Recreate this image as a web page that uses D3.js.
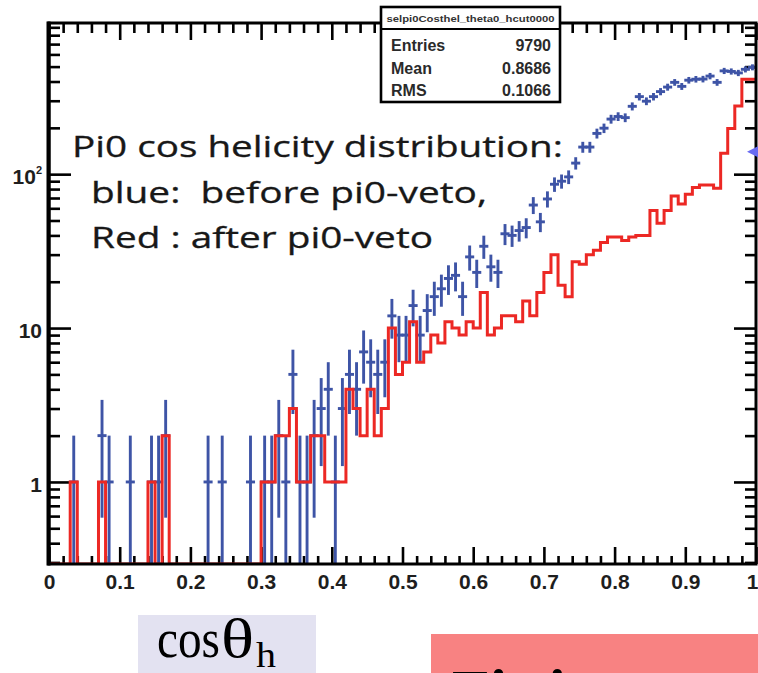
<!DOCTYPE html>
<html><head><meta charset="utf-8">
<script src="https://cdn.jsdelivr.net/npm/d3@7/dist/d3.min.js"></script>
<style>body{margin:0;background:#fff;} svg{display:block}</style>
</head><body>
<svg id="c" width="758" height="673"></svg>
<script>
// ---------------- data ----------------
const nBins = 100;
const xLow = 0, xHigh = 1;
const blueCounts = [
  0,0,0,1,0,0,0,2,1,0,
  0,1,0,0,1,1,2,0,0,0,
  0,0,1,0,1,0,0,0,1,0,
  1,1,2,1,5,1,1,2,3,4,
  1,3,5,4,7,6,5,6,12,9,
  9,14,9,13,16,18,21,22,16,29,
  23,34,25,23,41,40,43,45,63,49,
  69,86,90,96,118,150,150,184,199,228,
  237,233,276,319,298,319,344,368,395,372,
  408,414,415,434,395,469,465,455,480,495
];
const redCounts = [
  0,0,0,1,0,0,0,1,0,0,
  0,0,0,0,1,0,2,0,0,0,
  0,0,0,0,0,0,0,0,0,0,
  1,1,2,2,3,1,1,2,2,1,
  1,1,4,3,2,4,2,3,10,5,
  6,11,6,7,9,8,11,10,9,11,
  10,17,9,10,12,12,11,15,12,17,
  23,30,19,16,27,26,30,32,36,39,
  39,37,39,40,40,58,48,58,72,64,
  74,82,85,85,81,137,198,277,414,414
];
const xTickValues = [0,0.1,0.2,0.3,0.4,0.5,0.6,0.7,0.8,0.9,1];
const xTickLabels = ["0","0.1","0.2","0.3","0.4","0.5","0.6","0.7","0.8","0.9","1"];
const yTickValues = [1,10,100];
const yTickBase = ["1","10","10"];
const yTickExp = ["","","2"];
const statsTitle = "selpi0Costhel_theta0_hcut0000";
const statsNames = ["Entries","Mean","RMS"];
const statsValues = ["9790","0.8686","0.1066"];
const noteLines = ["Pi0 cos helicity distribution:","blue:  before pi0-veto,","Red : after pi0-veto"];
const markerValue = 140; // small blue marker on right axis
const yDomain = [0.293, 960];

// ---------------- layout ----------------
const L = 49, R = 756, T = 23, B = 564;
const BLUE = "#3e54a6", RED = "#ec2824";
const FONT = "'Liberation Sans', Arial, sans-serif";
const svg = d3.select("#c");
svg.append("rect").attr("width",758).attr("height",673).attr("fill","#fff");

const x = d3.scaleLinear().domain([xLow, xHigh]).range([L, R]);
const y = d3.scaleLog().domain(yDomain).range([B, T]);
const edges = d3.range(nBins + 1).map(i => xLow + (xHigh - xLow) * i / nBins);

// minor ticks
const xMinor = d3.range(0, 51).map(i => i / 50).filter(v => Math.round(v * 50) % 5 !== 0);
const yMinor = [];
[-1,0,1,2].forEach(d => { for (let k = 2; k <= 9; k++) { const v = k * Math.pow(10, d); if (v >= yDomain[0] && v <= yDomain[1]) yMinor.push(v); } });

function styleAxis(g){ g.select(".domain").remove(); g.selectAll(".tick line").attr("stroke","#000").attr("stroke-width",2.6); }

// bottom
const gB = svg.append("g").attr("transform",`translate(0,${B})`)
  .call(d3.axisBottom(x).tickValues(xTickValues).tickSize(-17).tickPadding(10).tickFormat((d,i)=>xTickLabels[i]));
styleAxis(gB);
gB.selectAll("text").attr("font-family",FONT).attr("font-weight","bold").attr("font-size",21).attr("fill","#1e1e1e")
  .attr("text-anchor",(d,i)=> i === xTickValues.length-1 ? "end" : "middle")
  .attr("x",(d,i)=> i === xTickValues.length-1 ? 758 - R : 0);
svg.append("g").attr("transform",`translate(0,${B})`).call(d3.axisBottom(x).tickValues(xMinor).tickSize(-8).tickFormat("")).call(styleAxis);
// top
svg.append("g").attr("transform",`translate(0,${T})`).call(d3.axisTop(x).tickValues(xTickValues).tickSize(-17).tickFormat("")).call(styleAxis);
svg.append("g").attr("transform",`translate(0,${T})`).call(d3.axisTop(x).tickValues(xMinor).tickSize(-10).tickFormat("")).call(styleAxis);
// left
const gL = svg.append("g").attr("transform",`translate(${L},0)`)
  .call(d3.axisLeft(y).tickValues(yTickValues).tickSize(-22).tickPadding(7).tickFormat((d,i)=>yTickBase[i]));
styleAxis(gL);
gL.selectAll("text").attr("font-family",FONT).attr("font-weight","bold").attr("font-size",21).attr("fill","#1e1e1e").attr("dy","0.45em")
  .each(function(d,i){ if (yTickExp[i]) { d3.select(this).append("tspan").attr("font-size",11).attr("dy","-0.9em").text(yTickExp[i]); } });
svg.append("g").attr("transform",`translate(${L},0)`).call(d3.axisLeft(y).tickValues(yMinor).tickSize(-11).tickFormat("")).call(styleAxis);
// right
svg.append("g").attr("transform",`translate(${R},0)`).call(d3.axisRight(y).tickValues(yTickValues).tickSize(-22).tickFormat("")).call(styleAxis);
svg.append("g").attr("transform",`translate(${R},0)`).call(d3.axisRight(y).tickValues(yMinor).tickSize(-11).tickFormat("")).call(styleAxis);

// clip
svg.append("clipPath").attr("id","pc").append("rect").attr("x",L).attr("y",T).attr("width",R-L).attr("height",B-T);
const plot = svg.append("g").attr("clip-path","url(#pc)");

// blue error-bar histogram
const blueData = blueCounts.map((c,i)=>({c, lo:edges[i], hi:edges[i+1]})).filter(d=>d.c>0);
const gBlue = plot.append("g").attr("stroke",BLUE).attr("stroke-width",2.9);
gBlue.selectAll("line.v").data(blueData).join("line").attr("class","v")
  .attr("x1",d=>x((d.lo+d.hi)/2)).attr("x2",d=>x((d.lo+d.hi)/2))
  .attr("y1",d=>y(d.c+Math.sqrt(d.c)))
  .attr("y2",d=>{ const lo = d.c-Math.sqrt(d.c); return lo > yDomain[0] ? y(lo) : B; });
gBlue.selectAll("line.h").data(blueData).join("line").attr("class","h")
  .attr("x1",d=>x(d.lo)-1).attr("x2",d=>x(d.hi)+1)
  .attr("y1",d=>y(d.c)).attr("y2",d=>y(d.c));

// red step histogram
const redPts = redCounts.map((c,i)=>[edges[i], c]);
redPts.push([edges[nBins], redCounts[nBins-1]]);
const redLine = d3.line().curve(d3.curveStepAfter).x(d=>x(d[0])).y(d=>d[1]>0 ? y(d[1]) : B);
plot.append("path").attr("d",redLine(redPts)).attr("fill","none").attr("stroke",RED).attr("stroke-width",3);

// frame
svg.append("rect").attr("x",L).attr("y",T).attr("width",R-L).attr("height",B-T).attr("fill","none").attr("stroke","#000").attr("stroke-width",3);
svg.append("line").attr("x1",L-0.5).attr("x2",L-0.5).attr("y1",T-1.5).attr("y2",B+1.5).attr("stroke","#000").attr("stroke-width",4);

// marker on right edge
const my = y(markerValue);
svg.append("path").attr("d",`M${R-9},${my} L${R+3},${my-6} L${R+3},${my+6} Z`).attr("fill","#6a6cf2");

// stats box
const sb = svg.append("g");
sb.append("rect").attr("x",381).attr("y",7).attr("width",179).attr("height",95).attr("fill","#fff").attr("stroke","#000").attr("stroke-width",2.6);
sb.append("line").attr("x1",381).attr("x2",560).attr("y1",29).attr("y2",29).attr("stroke","#000").attr("stroke-width",2);
sb.append("text").attr("x",470.5).attr("y",22).attr("text-anchor","middle").attr("font-family",FONT)
  .attr("font-weight","bold").attr("font-size",9.5).attr("fill","#333").attr("textLength",168).attr("lengthAdjust","spacingAndGlyphs").text(statsTitle);
statsNames.forEach((n,i)=>{
  sb.append("text").attr("x",391).attr("y",51+i*22.5).attr("font-family",FONT).attr("font-weight","bold").attr("font-size",16).attr("fill","#2a2a2a").text(n);
  sb.append("text").attr("x",551).attr("y",51+i*22.5).attr("text-anchor","end").attr("font-family",FONT).attr("font-weight","bold").attr("font-size",16).attr("fill","#2a2a2a").text(statsValues[i]);
});

// annotation text
const noteX = [72, 91, 91], noteY = [157, 203, 248], noteW = [491, 396, 342];
noteLines.forEach((t,i)=>{
  svg.append("text").attr("x",noteX[i]).attr("y",noteY[i]).attr("font-family","'Open Sans', sans-serif").attr("font-size",28.5)
    .attr("fill","#181818").attr("stroke","#181818").attr("stroke-width",0.3)
    .attr("textLength",noteW[i]).attr("lengthAdjust","spacingAndGlyphs").attr("xml:space","preserve").text(t);
});

// bottom slide elements
const SERIF = "'Liberation Serif', 'Times New Roman', serif";
svg.append("rect").attr("x",138).attr("y",615).attr("width",178).attr("height",58).attr("fill","#e3e2f1");
svg.append("text").attr("x",157).attr("y",657).attr("font-family",SERIF).attr("font-size",54).attr("fill","#000")
  .attr("textLength",63).attr("lengthAdjust","spacingAndGlyphs").text("cos");
svg.append("text").attr("x",221).attr("y",657).attr("font-family",SERIF).attr("font-size",54).attr("fill","#000")
  .attr("textLength",33).attr("lengthAdjust","spacingAndGlyphs").text("θ");
svg.append("text").attr("x",256).attr("y",667).attr("font-family",SERIF).attr("font-size",36).attr("fill","#000")
  .attr("textLength",20).attr("lengthAdjust","spacingAndGlyphs").text("h");
svg.append("rect").attr("x",431).attr("y",634).attr("width",327).attr("height",39).attr("fill","#f88282");
svg.append("text").attr("x",452).attr("y",712).attr("font-family",SERIF).attr("font-weight","bold").attr("font-size",62).attr("fill","#000").text("Fitting");
</script>
</body></html>
